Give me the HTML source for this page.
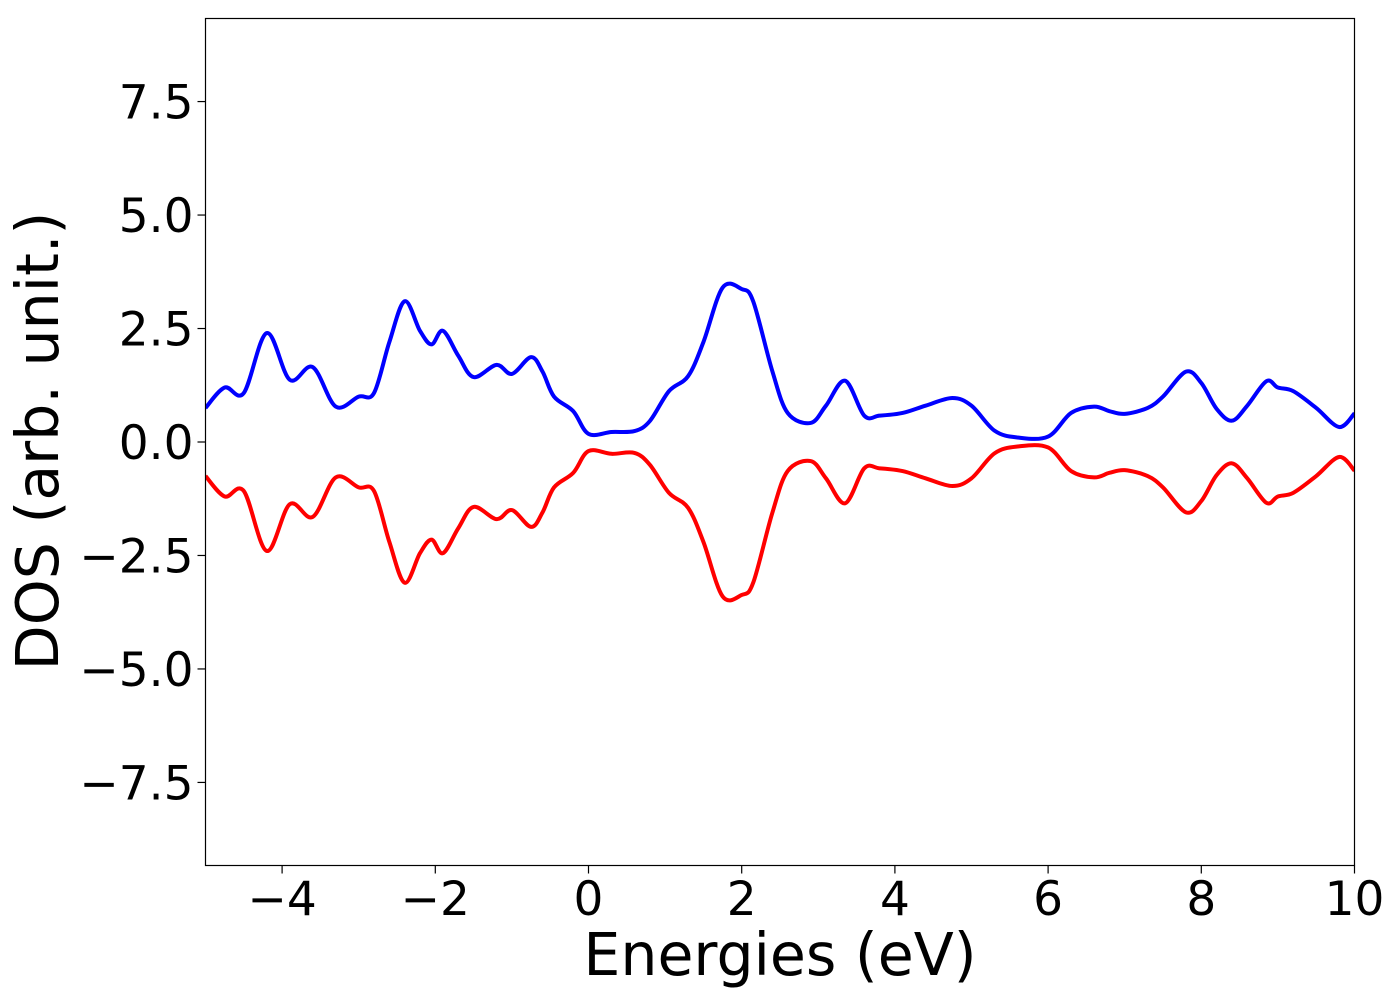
<!DOCTYPE html>
<html><head><meta charset="utf-8"><style>
body{margin:0;background:#fff;}
svg text{font-family:"DejaVu Sans","Liberation Sans",sans-serif;fill:#000;}
</style></head><body>
<svg id="chart" width="1400" height="1000" xmlns="http://www.w3.org/2000/svg">
<g id="ticks"></g>
<g id="lines"></g>
<rect x="205.5" y="18.5" width="1149" height="847" fill="none" stroke="#000" stroke-width="1.2"/>
<text x="780" y="975" font-size="58.5" text-anchor="middle">Energies (eV)</text>
<text transform="translate(58,441) rotate(-90)" font-size="58.5" text-anchor="middle">DOS (arb. unit.)</text>
</svg>
<script>
const energies=[-5,-4.75,-4.5,-4.2,-3.9,-3.6,-3.3,-3.0,-2.8,-2.6,-2.4,-2.2,-2.05,-1.9,-1.7,-1.5,-1.2,-1.0,-0.75,-0.6,-0.45,-0.2,0,0.3,0.6,0.8,1.05,1.3,1.5,1.75,2.0,2.15,2.4,2.6,2.9,3.1,3.35,3.6,3.8,4.1,4.4,4.75,5.0,5.3,5.6,6.0,6.3,6.6,6.8,7.0,7.3,7.5,7.8,8.0,8.2,8.4,8.6,8.85,9.0,9.2,9.5,9.8,10];
const dosUp=[0.75,1.2,1.08,2.4,1.37,1.65,0.78,1.0,1.08,2.2,3.1,2.45,2.15,2.45,1.9,1.43,1.7,1.5,1.87,1.55,1.0,0.68,0.18,0.22,0.24,0.46,1.12,1.45,2.2,3.4,3.37,3.1,1.56,0.64,0.42,0.8,1.35,0.58,0.58,0.64,0.8,0.97,0.8,0.25,0.1,0.12,0.64,0.78,0.68,0.62,0.75,1.0,1.55,1.3,0.73,0.47,0.8,1.34,1.2,1.12,0.75,0.33,0.63];
const dosDown=[-0.75,-1.2,-1.08,-2.4,-1.37,-1.65,-0.78,-1.0,-1.08,-2.2,-3.1,-2.45,-2.15,-2.45,-1.9,-1.43,-1.7,-1.5,-1.87,-1.55,-1.0,-0.68,-0.2,-0.26,-0.24,-0.5,-1.12,-1.45,-2.2,-3.4,-3.37,-3.1,-1.56,-0.64,-0.42,-0.8,-1.35,-0.58,-0.58,-0.64,-0.8,-0.97,-0.8,-0.25,-0.1,-0.12,-0.64,-0.78,-0.68,-0.62,-0.75,-1.0,-1.55,-1.3,-0.73,-0.47,-0.8,-1.34,-1.2,-1.12,-0.75,-0.33,-0.63];
const xTicks=[-4,-2,0,2,4,6,8,10];
const yTicks=[-7.5,-5.0,-2.5,0.0,2.5,5.0,7.5];
const X0=205.5,X1=1354.5,Y0=18.5,Y1=865.5,xmin=-5,xmax=10,ymin=-9.33,ymax=9.33;
const sx=v=>X0+(v-xmin)/(xmax-xmin)*(X1-X0);
const sy=v=>Y1-(v-ymin)/(ymax-ymin)*(Y1-Y0);
const NS="http://www.w3.org/2000/svg";
const tg=document.getElementById('ticks');
const fmt=v=>(v<0?'\u2212':'')+Math.abs(v);
xTicks.forEach(t=>{
  const l=document.createElementNS(NS,'line');
  
  
  l.setAttribute('x1',sx(t));l.setAttribute('x2',sx(t));l.setAttribute('y1',Y1);l.setAttribute('y2',Y1+8);l.setAttribute('stroke','#000');l.setAttribute('stroke-width','1.2');
  tg.appendChild(l);
  const tx=document.createElementNS(NS,'text');
  
  
  tx.setAttribute('x',sx(t));tx.setAttribute('y',915);tx.setAttribute('font-size','47');tx.setAttribute('text-anchor','middle');
  tx.textContent=fmt(t);tg.appendChild(tx);
});
yTicks.forEach(t=>{
  const l=document.createElementNS(NS,'line');
  
  
  l.setAttribute('x1',X0-8);l.setAttribute('x2',X0);l.setAttribute('y1',sy(t));l.setAttribute('y2',sy(t));l.setAttribute('stroke','#000');l.setAttribute('stroke-width','1.2');
  tg.appendChild(l);
  const tx=document.createElementNS(NS,'text');
  
  
  tx.setAttribute('x',X0-12);tx.setAttribute('y',sy(t)+17);tx.setAttribute('font-size','47');tx.setAttribute('text-anchor','end');
  tx.textContent=(t<0?'\u2212':'')+Math.abs(t).toFixed(1);tg.appendChild(tx);
});
function pathFor(ys){
  const p=energies.map((e,i)=>[sx(e),sy(ys[i])]);
  let d='M'+p[0][0]+','+p[0][1];
  for(let i=0;i<p.length-1;i++){
    const a=p[Math.max(0,i-1)],b=p[i],c=p[i+1],e=p[Math.min(p.length-1,i+2)];
    const c1=[b[0]+(c[0]-a[0])/6,b[1]+(c[1]-a[1])/6],c2=[c[0]-(e[0]-b[0])/6,c[1]-(e[1]-b[1])/6];
    d+=' C'+c1+' '+c2+' '+c;
  }
  return d;
}
const lg=document.getElementById('lines');
const cp=document.createElementNS(NS,'clipPath');cp.id='clip';
const cr=document.createElementNS(NS,'rect');cr.setAttribute('x',X0);cr.setAttribute('y',Y0);cr.setAttribute('width',X1-X0);cr.setAttribute('height',Y1-Y0);
cp.appendChild(cr);lg.appendChild(cp);
const up=document.createElementNS(NS,'path');


up.setAttribute('d',pathFor(dosUp));up.setAttribute('fill','none');up.setAttribute('stroke','#0000ff');up.setAttribute('stroke-width','4');up.setAttribute('clip-path','url(#clip)');
lg.appendChild(up);
const dn=document.createElementNS(NS,'path');


dn.setAttribute('d',pathFor(dosDown));dn.setAttribute('fill','none');dn.setAttribute('stroke','#ff0000');dn.setAttribute('stroke-width','4');dn.setAttribute('clip-path','url(#clip)');
lg.appendChild(dn);
</script>
</body></html>
